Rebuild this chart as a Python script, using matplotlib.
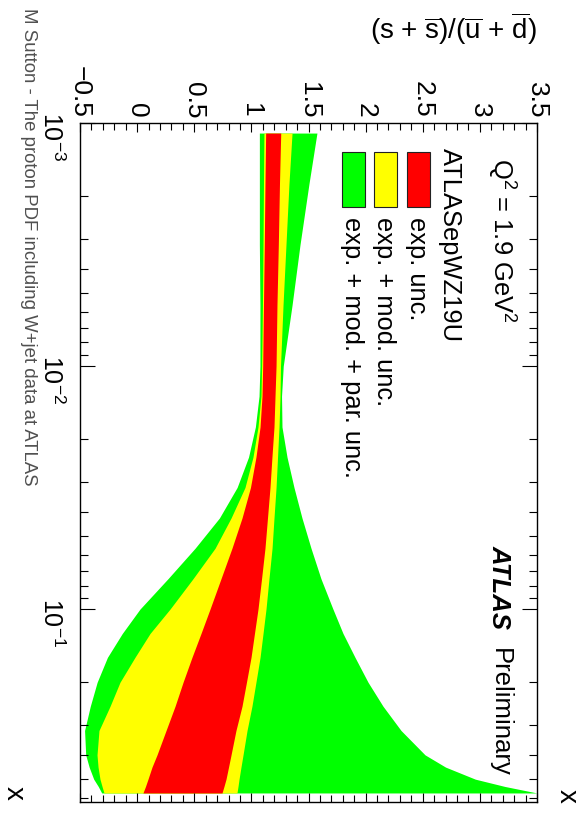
import numpy as np
import matplotlib
matplotlib.use("Agg")
import matplotlib.pyplot as plt
from matplotlib.patches import Rectangle
from matplotlib.ticker import MultipleLocator, LogLocator, NullFormatter

plt.rcParams['font.family'] = ['Liberation Sans', 'DejaVu Sans']
plt.rcParams['mathtext.fontset'] = 'custom'
plt.rcParams['mathtext.rm'] = 'Liberation Sans'
plt.rcParams['mathtext.it'] = 'Liberation Sans:italic'
plt.rcParams['mathtext.bf'] = 'Liberation Sans:bold'
plt.rcParams['mathtext.default'] = 'regular'

# Bjorken x sampling points
x_vals = [0.0011, 0.00178, 0.00316, 0.00562, 0.01, 0.0133, 0.0178, 0.0237,
          0.0316, 0.0422, 0.0562, 0.075, 0.1, 0.126, 0.158, 0.2, 0.251, 0.316,
          0.398, 0.447, 0.501, 0.537, 0.571]

# exp. + mod. + par. uncertainty band
tot_lo = [1.07, 1.07, 1.07, 1.075, 1.075, 1.067, 1.035, 0.975, 0.875, 0.72,
          0.507, 0.27, 0.025, -0.13, -0.26, -0.35, -0.41, -0.46, -0.45, -0.42,
          -0.38, -0.34, -0.31]
tot_hi = [1.574, 1.504, 1.426, 1.356, 1.279, 1.264, 1.268, 1.312, 1.373, 1.443,
          1.522, 1.609, 1.714, 1.802, 1.907, 2.021, 2.152, 2.31, 2.52, 2.70,
          2.96, 3.22, 3.5]
# exp. + mod. uncertainty band
mod_lo = [1.11, 1.106, 1.102, 1.097, 1.09, 1.084, 1.058, 1.014, 0.944, 0.822,
          0.682, 0.489, 0.288, 0.113, -0.019, -0.15, -0.237, -0.334, -0.351,
          -0.342, -0.325, -0.307, -0.29]
mod_hi = [1.356, 1.329, 1.303, 1.277, 1.255, 1.251, 1.242, 1.229, 1.216, 1.198,
          1.181, 1.154, 1.128, 1.102, 1.076, 1.04, 1.005, 0.962, 0.927, 0.909,
          0.892, 0.883, 0.874]
# exp. uncertainty band
exp_lo = [1.125, 1.119, 1.113, 1.106, 1.099, 1.093, 1.076, 1.04, 0.992, 0.918,
          0.83, 0.734, 0.638, 0.559, 0.48, 0.402, 0.332, 0.253, 0.174, 0.13,
          0.095, 0.073, 0.051]
exp_hi = [1.257, 1.246, 1.236, 1.224, 1.216, 1.207, 1.198, 1.18, 1.163, 1.141,
          1.119, 1.089, 1.058, 1.027, 0.997, 0.957, 0.918, 0.865, 0.822, 0.80,
          0.778, 0.76, 0.743]

ratio_ticks = [-0.5, 0, 0.5, 1, 1.5, 2, 2.5, 3, 3.5]
ratio_labels = ['\u22120.5', '0', '0.5', '1', '1.5', '2', '2.5', '3', '3.5']
x_ticks = [1e-3, 1e-2, 1e-1]
x_labels = [r'$10^{-3}$', r'$10^{-2}$', r'$10^{-1}$']

band_names = ['exp. unc.', 'exp. + mod. unc.', 'exp. + mod. + par. unc.']
band_colors = ['#ff0000', '#ffff00', '#00ff00']

W, H = 580, 817
fig = plt.figure(figsize=(W / 100, H / 100), dpi=100)


def fxy(px, py):
    return px / W, 1 - py / H


ax = fig.add_axes([80 / W, 1 - 802 / H, 457 / W, 679 / H])

x = np.array(x_vals)
ax.fill_betweenx(x, tot_lo, tot_hi, color=band_colors[2], lw=0)
ax.fill_betweenx(x, mod_lo, mod_hi, color=band_colors[1], lw=0)
ax.fill_betweenx(x, exp_lo, exp_hi, color=band_colors[0], lw=0)

ax.set_xlim(-0.5, 3.5)
ax.set_yscale('log')
ax.set_ylim(0.622, 1e-3)

ax.set_xticks(ratio_ticks, labels=ratio_labels)
ax.xaxis.set_minor_locator(MultipleLocator(0.1))
ax.set_yticks(x_ticks, labels=x_labels)
ax.yaxis.set_minor_locator(LogLocator(base=10, subs=np.arange(2, 10)))
ax.yaxis.set_minor_formatter(NullFormatter())

ax.tick_params(axis='x', which='both', direction='in', top=True, bottom=True,
               labeltop=True, labelbottom=False, width=0.8, labelsize=19, pad=3.6)
ax.tick_params(axis='x', which='major', length=6.5)
ax.tick_params(axis='x', which='minor', length=5)
ax.tick_params(axis='y', which='both', direction='in', left=True, right=True,
               labelleft=True, labelright=False, width=0.8, labelsize=18, pad=11.5)
ax.tick_params(axis='y', which='major', length=11)
ax.tick_params(axis='y', which='minor', length=5.5)
for lbl in ax.get_xticklabels():
    lbl.set_rotation(-90)
for lbl in ax.get_yticklabels():
    lbl.set_rotation(-90)
for sp in ax.spines.values():
    sp.set_linewidth(1.0)

ax.xaxis.set_label_position('top')
ax.set_xlabel(r'(s + $\overline{\mathrm{s}}$)/($\overline{\mathrm{u}}$ + $\overline{\mathrm{d}}$)',
              fontsize=20)
ax.xaxis.set_label_coords(1.0, (802 - 39) / 679)
ax.xaxis.label.set_ha('right')
ax.xaxis.label.set_va('baseline')

ax.set_ylabel('x', fontsize=20, rotation=-90)
ax.yaxis.set_label_coords((7 - 80) / 457, (802 - 793) / 679)
ax.yaxis.label.set_rotation_mode('anchor')
ax.yaxis.label.set_ha('center')
ax.yaxis.label.set_va('baseline')

rot = dict(rotation=-90, rotation_mode='anchor', ha='left', va='baseline')
fig.text(*fxy(560, 796), 'x', fontsize=20, rotation=-90, rotation_mode='anchor',
         ha='center', va='baseline')
fig.text(*fxy(24, 8), 'M Sutton - The proton PDF including W+jet data at ATLAS',
         fontsize=13.4, color='#505050', **rot)

fig.text(*fxy(492, 158), r'Q$^2$ = 1.9 GeV$^2$', fontsize=18.4, **rot)
fig.text(*fxy(443, 148), 'ATLASepWZ19U', fontsize=18.4, **rot)
fig.text(*fxy(493, 545), 'ATLAS', fontsize=18.5, fontweight='bold',
         fontstyle='italic', **rot)
fig.text(*fxy(493, 648), 'Preliminary', fontsize=18.5, **rot)

# legend entries, stacked right to left
box_left = [407, 374, 342]
for bx, name, col in zip(box_left, band_names, band_colors):
    fig.add_artist(Rectangle(fxy(bx, 207), 23 / W, 55 / H, transform=fig.transFigure,
                             facecolor=col, edgecolor='#222222', lw=0.8))
    fig.text(*fxy(bx + 3, 217), name, fontsize=18.4, **rot)

fig.savefig('out.png', dpi=100)
